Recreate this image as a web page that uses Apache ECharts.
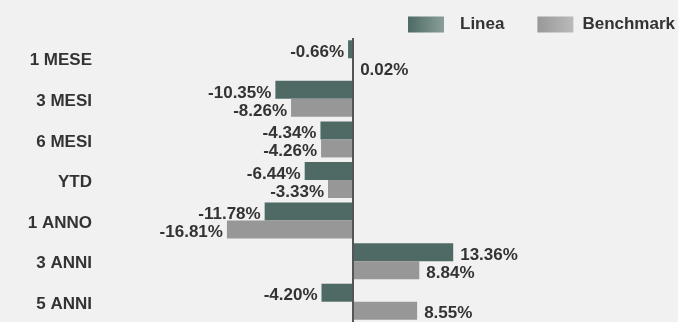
<!DOCTYPE html>
<html>
<head>
<meta charset="utf-8">
<script src="https://cdn.jsdelivr.net/npm/echarts@6/dist/echarts.min.js"></script>
<style>
  html, body { margin: 0; padding: 0; background: #f1f1f1; }
  #chart { width: 678px; height: 322px; }
</style>
</head>
<body>
<div id="chart"></div>
<script>
// Performance periods and returns (%)
const categories = ['1 MESE', '3 MESI', '6 MESI', 'YTD', '1 ANNO', '3 ANNI', '5 ANNI'];
const lineaValues = [-0.66, -10.35, -4.34, -6.44, -11.78, 13.36, -4.20];
const benchmarkValues = [0.02, -8.26, -4.26, -3.33, -16.81, 8.84, 8.55];
const seriesNames = ['Linea', 'Benchmark'];

const FONT = '"Liberation Sans", Arial, sans-serif';
const TEXT = '#333333';
const FONT_SIZE = 17;

function withLabels(values) {
  return values.map(v => ({
    value: v,
    label: { position: v < 0 ? 'left' : 'right', distance: v < 0 ? 4 : 7 }
  }));
}

const labelStyle = {
  show: true,
  color: TEXT,
  fontFamily: FONT,
  fontWeight: 'bold',
  fontSize: FONT_SIZE,
  offset: [0, 3],
  formatter: p => p.value.toFixed(2) + '%'
};

const legendText = { color: TEXT, fontFamily: FONT, fontWeight: 'bold', fontSize: FONT_SIZE };

const chart = echarts.init(document.getElementById('chart'), null, { renderer: 'canvas' });
chart.setOption({
  backgroundColor: '#f1f1f1',
  animation: false,
  legend: {
    orient: 'horizontal',
    left: 408,
    top: 16,
    width: 400,
    padding: 0,
    itemWidth: 36,
    itemHeight: 16,
    itemGap: 33,
    icon: 'rect',
    textStyle: legendText,
    data: [
      {
        name: seriesNames[0],
        textStyle: Object.assign({ padding: [0, 0, 0, 11] }, legendText),
        itemStyle: { color: new echarts.graphic.LinearGradient(0, 0, 1, 0, [
          { offset: 0, color: '#4d6a64' }, { offset: 1, color: '#8a9e99' }]) }
      },
      {
        name: seriesNames[1],
        textStyle: Object.assign({ padding: [0, 0, 0, 4] }, legendText),
        itemStyle: { color: new echarts.graphic.LinearGradient(0, 0, 1, 0, [
          { offset: 0, color: '#989898' }, { offset: 1, color: '#bababa' }]) }
      }
    ]
  },
  grid: { left: 203, width: 300, top: 38, height: 285 },
  xAxis: {
    type: 'value',
    min: -20,
    max: 20,
    show: false
  },
  yAxis: {
    type: 'category',
    inverse: true,
    data: categories,
    axisLine: { show: false },
    axisTick: { show: false },
    axisLabel: {
      margin: 111,
      formatter: '{c|{value}}',
      rich: {
        c: { color: TEXT, fontFamily: FONT, fontWeight: 'bold', fontSize: FONT_SIZE, padding: [5, 0, 0, 0] }
      }
    }
  },
  series: [
    {
      name: seriesNames[0],
      type: 'bar',
      barWidth: 18,
      barGap: '0%',
      itemStyle: { color: '#4f6a65' },
      label: labelStyle,
      data: withLabels(lineaValues),
      markLine: {
        silent: true,
        symbol: 'none',
        label: { show: false },
        lineStyle: { color: '#555555', width: 2, type: 'solid' },
        data: [{ xAxis: 0 }]
      }
    },
    {
      name: seriesNames[1],
      type: 'bar',
      barWidth: 18,
      barGap: '0%',
      itemStyle: { color: '#979797' },
      label: labelStyle,
      data: withLabels(benchmarkValues)
    }
  ]
});
</script>
</body>
</html>
